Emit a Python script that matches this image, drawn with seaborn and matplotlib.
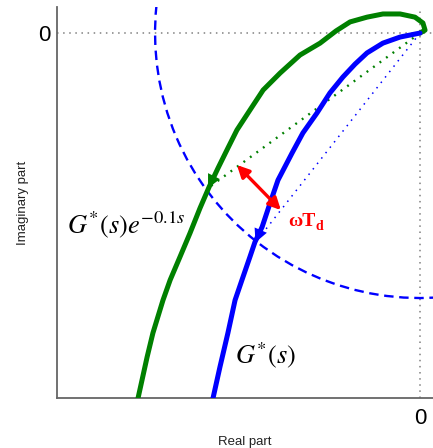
import numpy as np
import matplotlib as mpl
mpl.use('Agg')
import matplotlib.pyplot as plt
from matplotlib.patches import Arc
import seaborn as sns

sns.set_style('white')
plt.rcParams['font.family'] = ['Liberation Sans', 'DejaVu Sans']
plt.rcParams['mathtext.fontset'] = 'stix'

# Nyquist curves (unit = radius of the unit circle)
blue_x = [0.0, -0.075, -0.140, -0.200, -0.245, -0.291, -0.340, -0.389, -0.442,
          -0.483, -0.536, -0.566, -0.596, -0.623, -0.642, -0.672, -0.698, -0.725,
          -0.755, -0.781, -0.792]
blue_y = [0.0, -0.015, -0.038, -0.075, -0.117, -0.166, -0.226, -0.302, -0.377,
          -0.453, -0.555, -0.642, -0.732, -0.789, -0.845, -0.932, -1.008, -1.132,
          -1.260, -1.377, -1.430]

green_x = [0.0, 0.019, 0.011, -0.019, -0.075, -0.140, -0.200, -0.264, -0.317,
           -0.377, -0.453, -0.528, -0.592, -0.642, -0.691, -0.725, -0.762, -0.796,
           -0.830, -0.868, -0.906, -0.943, -0.970, -1.008, -1.030, -1.064, -1.075]
green_y = [0.0, 0.011, 0.038, 0.060, 0.072, 0.072, 0.060, 0.042, 0.008,
           -0.038, -0.083, -0.151, -0.215, -0.291, -0.366, -0.434, -0.509, -0.581,
           -0.660, -0.755, -0.845, -0.932, -1.008, -1.132, -1.223, -1.377, -1.430]

# gain crossover points (curves meet the unit circle)
green_cross = (-0.800, -0.585)
blue_cross = (-0.621, -0.790)
# ends of the omega*Td arrow
delay_start = (-0.691, -0.498)
delay_end = (-0.525, -0.668)

GREEN = '#008000'
BLUE = '#0000ff'
RED = '#ff0000'
GRID = '#808080'

fig = plt.figure(figsize=(4.33, 4.48), dpi=100)
ax = fig.add_axes([57 / 433, 50 / 448, 376 / 433, 391 / 448])

# zero lines
ax.axhline(0, color=GRID, lw=1.1, ls=(0, (1, 3)), zorder=1)
ax.axvline(0, color=GRID, lw=1.1, ls=(0, (1, 3)), zorder=1)

# unit circle
ax.add_patch(Arc((0, 0), 2, 2, theta1=174, theta2=290, color=BLUE,
                 lw=1.7, ls=(0, (4, 2.4)), zorder=2))

# radial dotted lines to crossover points
ax.plot([0, green_cross[0]], [0, green_cross[1]], color=GREEN, lw=1.7,
        ls=(0, (0.8, 2.6)), zorder=2)
ax.plot([0, blue_cross[0]], [0, blue_cross[1]], color=BLUE, lw=1.1,
        ls=(0, (1, 3.5)), zorder=2)

line_kw = dict(sort=False, lw=3.6, ax=ax, zorder=3, estimator=None)
sns.lineplot(x=green_x, y=green_y, color=GREEN, **line_kw)
sns.lineplot(x=blue_x, y=blue_y, color=BLUE, **line_kw)
for ln in ax.get_lines()[-2:]:
    ln.set_solid_joinstyle('round')
    ln.set_solid_capstyle('round')

# direction arrows on the curves
ax.annotate('', xy=green_cross, xytext=(green_x[16], green_y[16]),
            arrowprops=dict(arrowstyle='-|>', color=GREEN, lw=0,
                            mutation_scale=24, shrinkA=0, shrinkB=0), zorder=4)
ax.annotate('', xy=blue_cross, xytext=(blue_x[12], blue_y[12]),
            arrowprops=dict(arrowstyle='-|>', color=BLUE, lw=0,
                            mutation_scale=24, shrinkA=0, shrinkB=0), zorder=4)

# omega*Td double arrow
ax.annotate('', xy=delay_start, xytext=delay_end,
            arrowprops=dict(arrowstyle='<|-|>', color=RED, lw=2.4,
                            mutation_scale=18, shrinkA=0, shrinkB=0), zorder=5)

ax.text(-1.332, -0.755, r'$G^{*}(s)e^{-0.1s}$', fontsize=19, ha='left',
        va='baseline', color='black')
ax.text(-0.698, -1.245, r'$G^{*}(s)$', fontsize=19, ha='left',
        va='baseline', color='black')
ax.text(-0.498, -0.730, 'ωT', fontsize=14, fontweight='bold',
        family=['Liberation Serif', 'DejaVu Serif'], color=RED,
        ha='left', va='baseline')
ax.annotate('d', xy=(-0.498, -0.730), xytext=(19.5, -2.5),
            textcoords='offset points', fontsize=10, fontweight='bold',
            family=['Liberation Serif', 'DejaVu Serif'], color=RED,
            ha='left', va='baseline')

ax.set_xlim(-1.370, 0.049)
ax.set_ylim(-1.377, 0.098)
ax.set_aspect('equal', adjustable='box')

ax.set_xticks([0])
ax.set_xticklabels(['0'])
ax.set_yticks([0])
ax.set_yticklabels(['0'])
ax.tick_params(axis='both', direction='in', length=4, width=1, color='#666666',
               labelsize=16, labelcolor='black')
ax.tick_params(axis='x', pad=7)
ax.tick_params(axis='y', pad=5)

for side in ['top', 'right']:
    ax.spines[side].set_visible(False)
for side in ['left', 'bottom']:
    ax.spines[side].set_color('#666666')
    ax.spines[side].set_linewidth(1.3)

ax.set_xlabel('Real part', fontsize=9.5, color='#222222', labelpad=5)
ax.set_ylabel('Imaginary part', fontsize=9.5, color='#222222', labelpad=6)

fig.savefig('out.png', dpi=100)
